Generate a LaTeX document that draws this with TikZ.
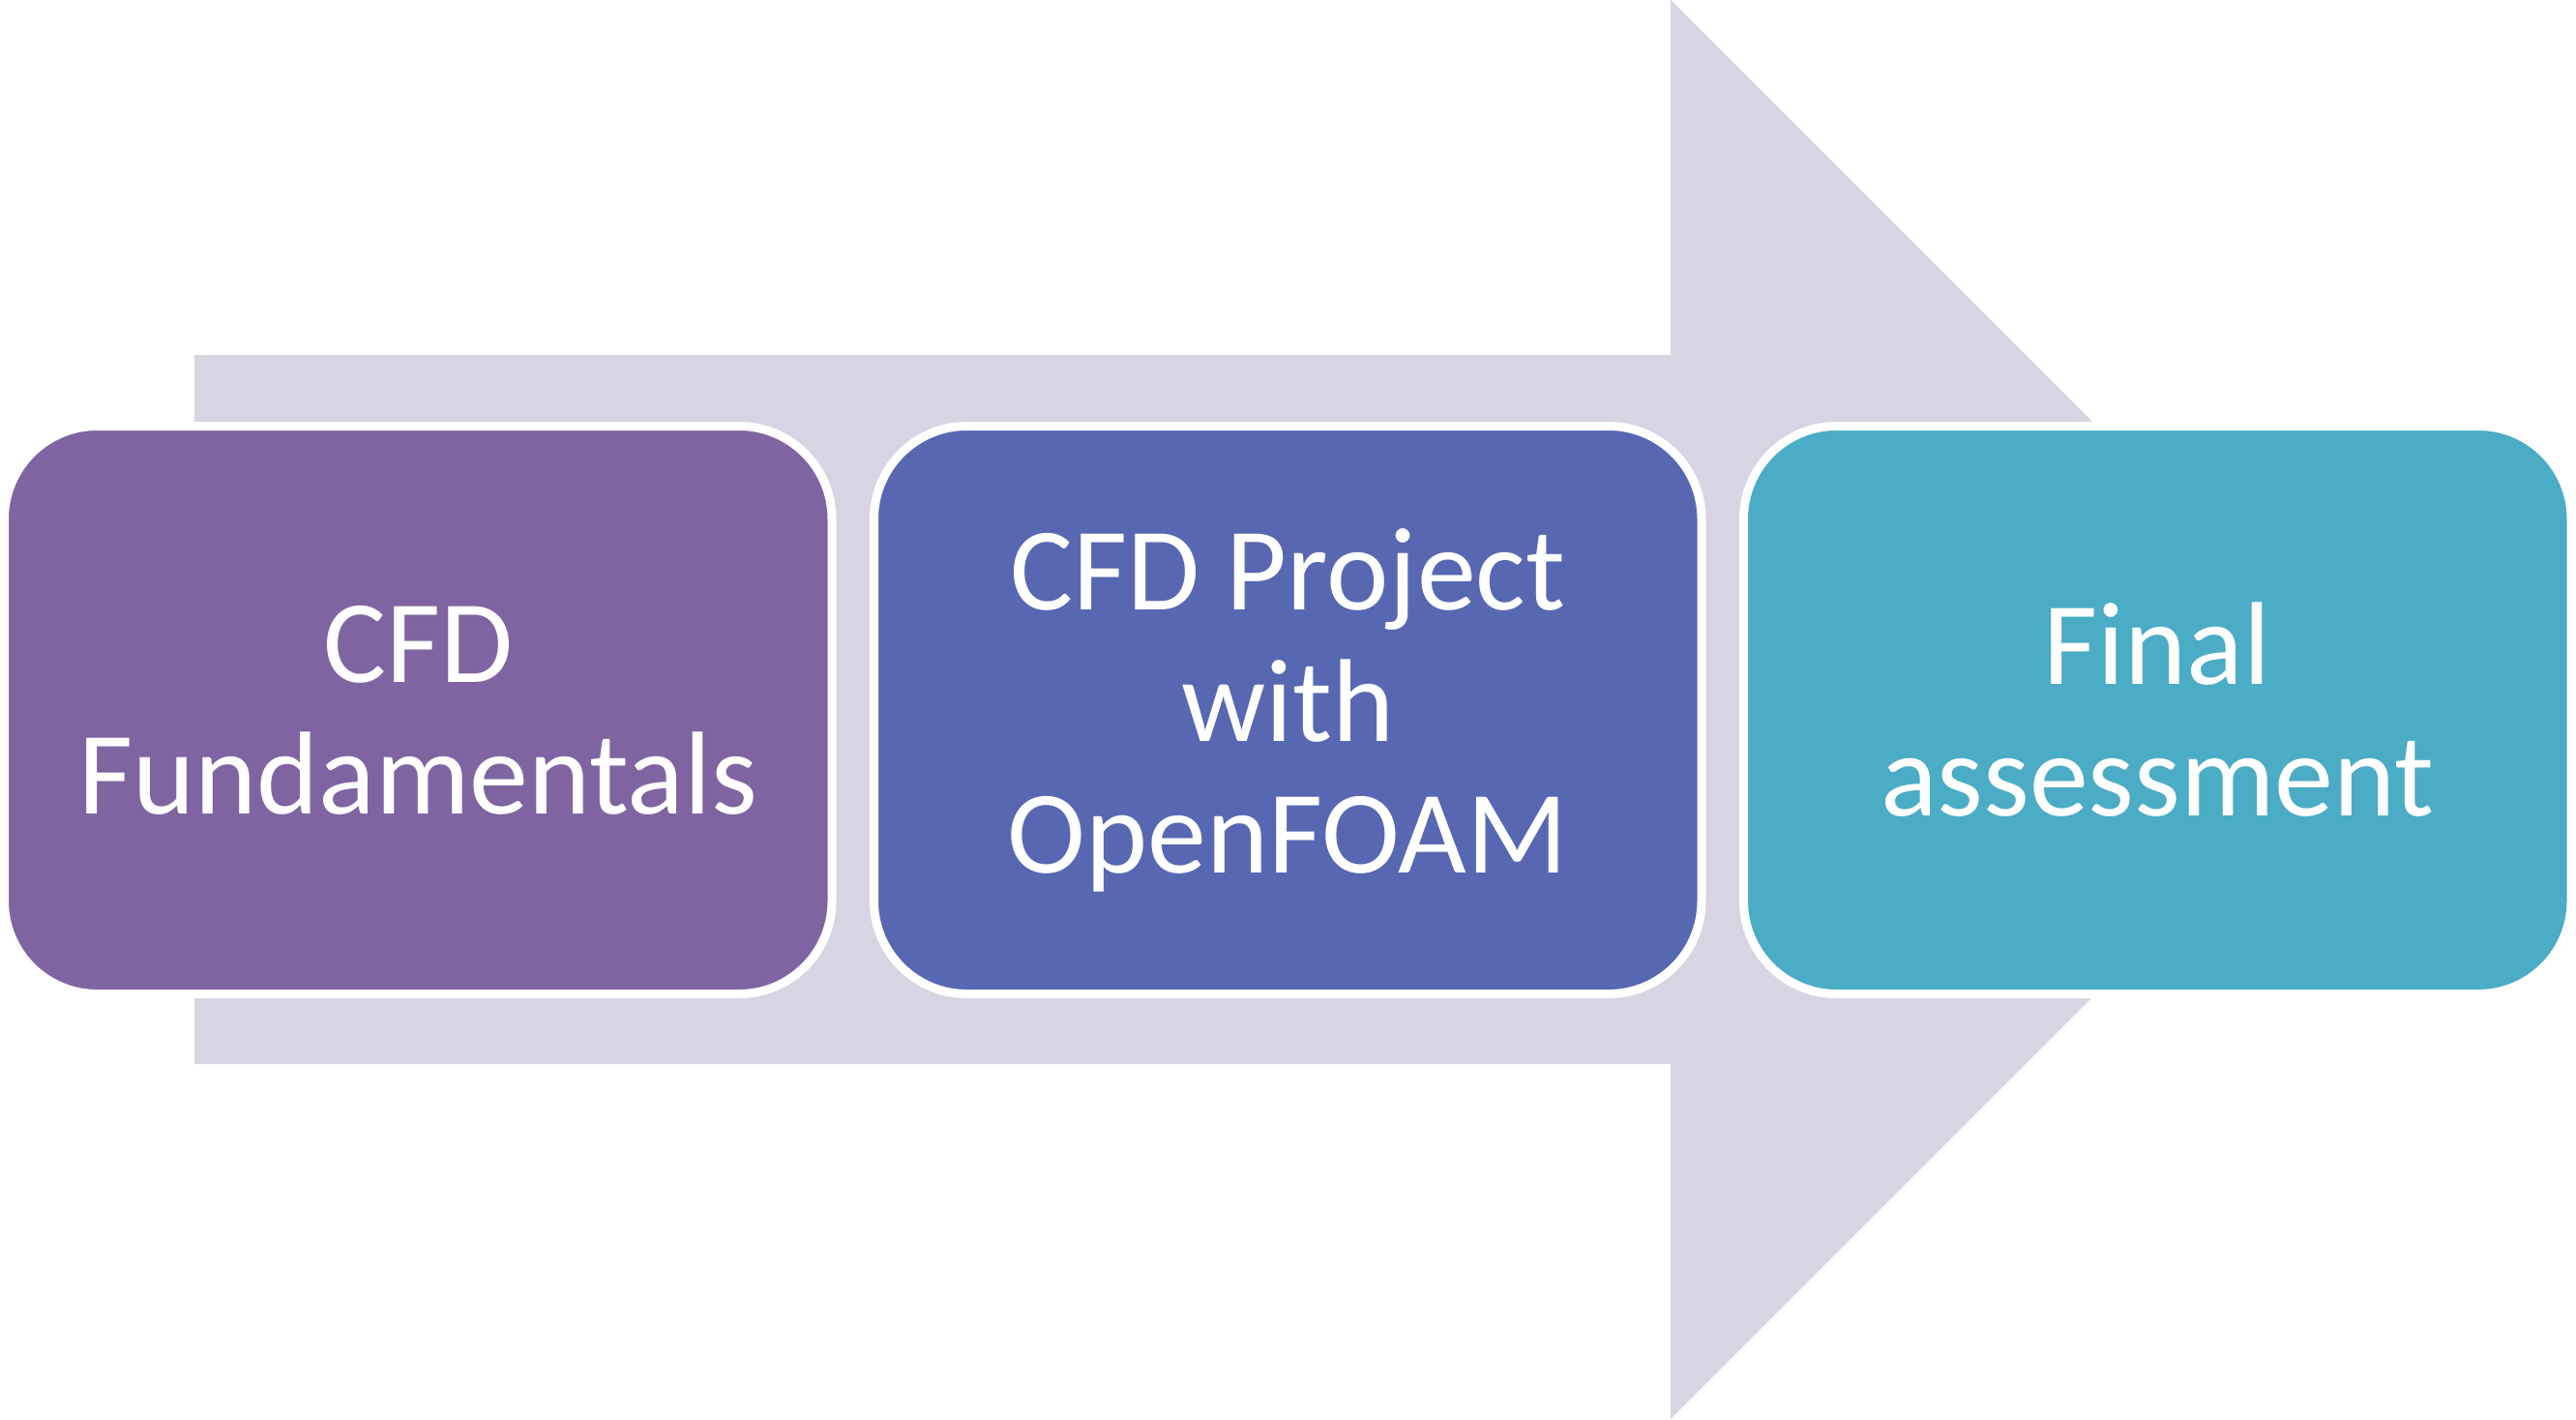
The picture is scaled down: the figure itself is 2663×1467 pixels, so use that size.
\documentclass[tikz,border=0pt]{standalone}
\usepackage{fontspec}
\setmainfont{Carlito}
\definecolor{arrowfill}{HTML}{D8D4E3}
\definecolor{boxpurple}{HTML}{8064A2}
\definecolor{boxblue}{HTML}{5867B2}
\definecolor{boxteal}{HTML}{4BACC6}
\tikzset{
  stagebox/.style={rectangle, rounded corners=96pt, draw=white, line width=9pt,
    minimum width=855.5pt, minimum height=587pt, inner sep=0pt, outer sep=0pt,
    text=white, align=center,
    font=\fontsize{122pt}{136pt}\selectfont},
}
\begin{document}
\begin{tikzpicture}[x=1pt,y=-1pt]
\useasboundingbox (0,0) rectangle (2663,1467);
\fill[arrowfill] (201,367) -- (1727,367) -- (1727,0) -- (2460.5,733.5)
  -- (1727,1467) -- (1727,1100) -- (201,1100) -- cycle;
\node[stagebox, fill=boxpurple] (fund) at (432.25,734) {CFD\\Fundamentals};
\node[stagebox, fill=boxblue] (proj) at (1331.25,734) {CFD Project\\with\\OpenFOAM};
\node[stagebox, fill=boxteal] (final) at (2230.25,734) {Final\\assessment};
\end{tikzpicture}
\end{document}
